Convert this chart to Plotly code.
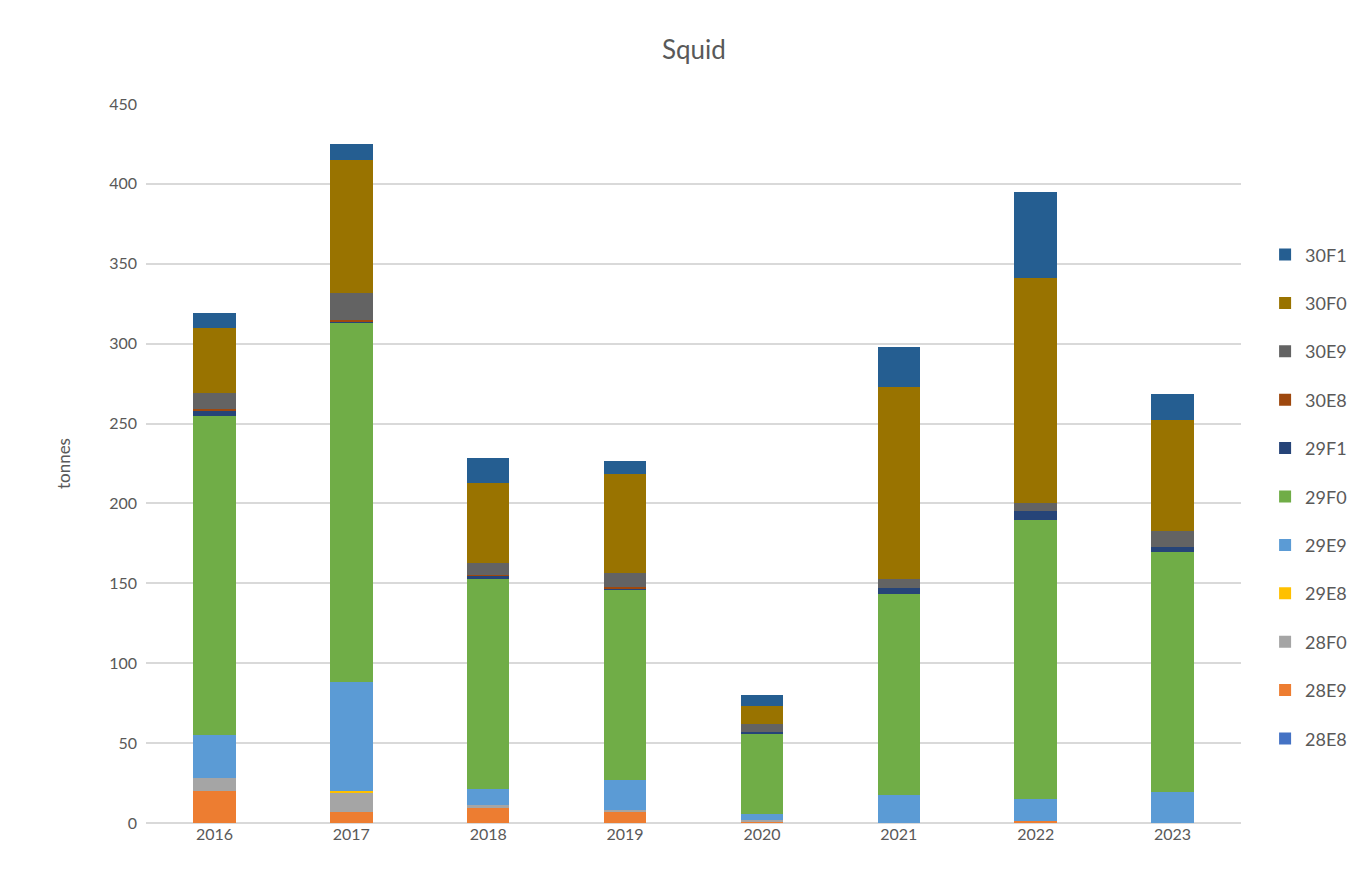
import plotly.graph_objects as go

years = ["2016", "2017", "2018", "2019", "2020", "2021", "2022", "2023"]

s_28E8 = [0, 0, 0, 0, 0, 0, 0, 0]
s_28E9 = [20, 7, 10, 7, 1, 0, 1.5, 0]
s_28F0 = [8, 12, 1, 1, 1, 0, 0, 0]
s_29E8 = [0, 1, 0, 0, 0, 0, 0, 0]
s_29E9 = [27, 68, 10, 19, 3.5, 17.5, 13.5, 19.5]
s_29F0 = [200, 225, 132, 119, 50.5, 126, 174.5, 150]
s_29F1 = [3, 0.5, 2, 0.5, 1, 3.5, 6, 3]
s_30E8 = [1, 1.5, 0.5, 1, 0, 0, 0, 0]
s_30E9 = [10, 17, 7, 9, 5, 6, 4.5, 10]
s_30F0 = [41, 83, 50, 62, 11, 120, 141, 70]
s_30F1 = [9, 10, 16, 8, 7, 25, 54, 16]

series = [
    ("28E8", s_28E8, "#4472C4"),
    ("28E9", s_28E9, "#ED7D31"),
    ("28F0", s_28F0, "#A5A5A5"),
    ("29E8", s_29E8, "#FFC000"),
    ("29E9", s_29E9, "#5B9BD5"),
    ("29F0", s_29F0, "#70AD47"),
    ("29F1", s_29F1, "#264478"),
    ("30E8", s_30E8, "#9E480E"),
    ("30E9", s_30E9, "#636363"),
    ("30F0", s_30F0, "#997300"),
    ("30F1", s_30F1, "#255E91"),
]

fig = go.Figure()
n = len(series)
for i, (name, vals, col) in enumerate(series):
    fig.add_trace(go.Bar(
        x=years, y=vals, name=name, legendgroup=name, legendrank=100 + (n - i),
        marker=dict(color=col, line=dict(width=0)),
    ))

font_family = "Lato, 'Open Sans', sans-serif"
fig.update_layout(
    barmode="stack",
    bargap=0.69,
    width=1361, height=882,
    paper_bgcolor="white", plot_bgcolor="white",
    margin=dict(l=138, r=128, t=96, b=67, autoexpand=False),
    title=dict(text="Squid", x=0.504, xanchor="center", y=0.952, yanchor="middle",
               font=dict(family=font_family, size=26, color="#595959")),
    font=dict(family=font_family, color="#595959", size=16),
    legend=dict(
        traceorder="grouped", x=1.022, xanchor="left", y=0.816, yanchor="top",
        font=dict(size=18, color="#595959"), tracegroupgap=22,
        itemwidth=30,
    ),
    xaxis=dict(showgrid=False, showline=False, ticks="",
               tickfont=dict(size=16, color="#595959")),
    yaxis=dict(range=[0, 450], dtick=50, showgrid=True, gridcolor="#D9D9D9",
               gridwidth=1.5, zeroline=True, zerolinecolor="#D9D9D9", zerolinewidth=1.5,
               showline=False, ticks="", ticklabelstandoff=8,
               tickfont=dict(size=16, color="#595959"),
               title=dict(text="tonnes", font=dict(size=17, color="#595959"), standoff=34)),
)

fig.write_html("out.html")
